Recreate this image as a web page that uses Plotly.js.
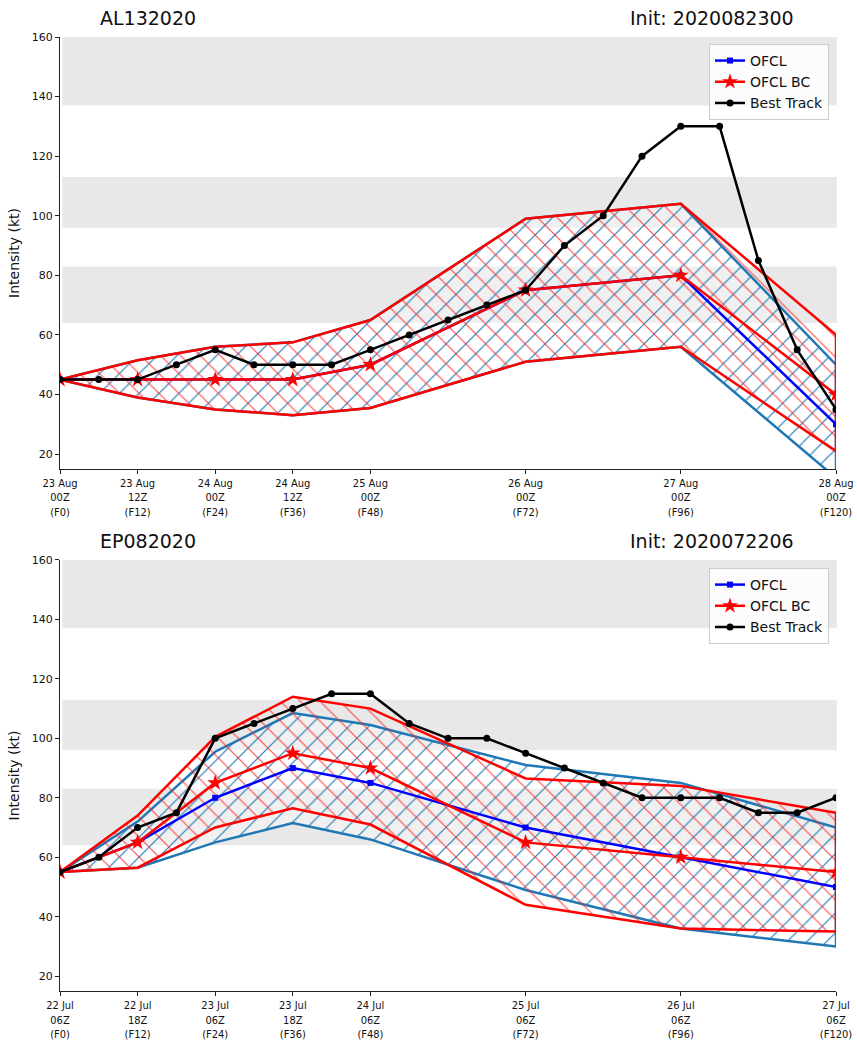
<!DOCTYPE html>
<html>
<head>
<meta charset="utf-8">
<script src="https://cdn.plot.ly/plotly-3.0.1.min.js"></script>
<style>
  html, body { margin: 0; padding: 0; background: #ffffff; }
  #chart { width: 857px; height: 1042px; }
</style>
</head>
<body>
<div id="chart"></div>
<script>
// ---------- data ----------
const fcstHours = [0, 12, 24, 36, 48, 72, 96, 120];
const btHours = [0, 6, 12, 18, 24, 30, 36, 42, 48, 54, 60, 66, 72, 78, 84, 90, 96, 102, 108, 114, 120];

// Saffir-Simpson shaded bands (kt)
const bandLow = [64, 96, 137];
const bandHigh = [83, 113, 160];

// AL132020
const alTitle = "AL132020";
const alInit = "Init: 2020082300";
const alTickText = ["23 Aug<br>00Z<br>(F0)", "23 Aug<br>12Z<br>(F12)", "24 Aug<br>00Z<br>(F24)", "24 Aug<br>12Z<br>(F36)",
                    "25 Aug<br>00Z<br>(F48)", "26 Aug<br>00Z<br>(F72)", "27 Aug<br>00Z<br>(F96)", "28 Aug<br>00Z<br>(F120)"];
const alOfcl = [45, 45, 45, 45, 50, 75, 80, 30];
const alOfclBC = [45, 45, 45, 45, 50, 75, 80, 40];
const alBestTrack = [45, 45, 45, 50, 55, 50, 50, 50, 55, 60, 65, 70, 75, 90, 100, 120, 130, 130, 85, 55, 35];
const alOfclHigh = [45, 51.5, 56, 57.5, 65, 99, 104, 50];
const alOfclLow = [45, 39, 35, 33, 35.5, 51, 56, 12];
const alBCHigh = [45, 51.5, 56, 57.5, 65, 99, 104, 60];
const alBCLow = [45, 39, 35, 33, 35.5, 51, 56, 21];

// EP082020
const epTitle = "EP082020";
const epInit = "Init: 2020072206";
const epTickText = ["22 Jul<br>06Z<br>(F0)", "22 Jul<br>18Z<br>(F12)", "23 Jul<br>06Z<br>(F24)", "23 Jul<br>18Z<br>(F36)",
                    "24 Jul<br>06Z<br>(F48)", "25 Jul<br>06Z<br>(F72)", "26 Jul<br>06Z<br>(F96)", "27 Jul<br>06Z<br>(F120)"];
const epOfcl = [55, 65, 80, 90, 85, 70, 60, 50];
const epOfclBC = [55, 65, 85, 95, 90, 65, 60, 55];
const epBestTrack = [55, 60, 70, 75, 100, 105, 110, 115, 115, 105, 100, 100, 95, 90, 85, 80, 80, 80, 75, 75, 80];
const epOfclHigh = [55, 72, 95.5, 108.5, 104.5, 91, 85, 70];
const epOfclLow = [55, 56.5, 65, 71.5, 66, 49, 36, 30];
const epBCHigh = [55, 74, 100.5, 114, 110, 86.5, 84, 75];
const epBCLow = [55, 56.5, 70, 76.5, 71, 44, 36, 35];

const yTickVals = [20, 40, 60, 80, 100, 120, 140, 160];

// ---------- styling ----------
const FONT = "DejaVu Sans, Verdana, sans-serif";
const TICKFONT_X = "Liberation Sans Narrow, DejaVu Sans Condensed, DejaVu Sans, sans-serif";
const CBLUE = "#1f77b4";

function polyX(h) { return h.concat(h.slice().reverse()); }
function polyY(hi, lo) { return hi.concat(lo.slice().reverse()); }

function buildTraces(xa, ya, legendId, ofcl, bc, bt, ofHi, ofLo, bcHi, bcLo) {
  return [
    { x: polyX(fcstHours), y: polyY(ofHi, ofLo), xaxis: xa, yaxis: ya, type: "scatter", mode: "lines",
      fill: "toself", fillcolor: "rgba(255,255,255,0.35)",
      fillpattern: { shape: "/", fgcolor: CBLUE, bgcolor: "rgba(255,255,255,0.35)", size: 14, solidity: 0.08 },
      line: { color: CBLUE, width: 2.5 }, showlegend: false, hoverinfo: "skip" },
    { x: polyX(fcstHours), y: polyY(bcHi, bcLo), xaxis: xa, yaxis: ya, type: "scatter", mode: "lines",
      fill: "toself", fillcolor: "rgba(0,0,0,0)",
      fillpattern: { shape: "\\", fgcolor: "rgba(255,30,30,0.8)", bgcolor: "rgba(0,0,0,0)", size: 14, solidity: 0.08 },
      line: { color: "#ff0000", width: 2.5 }, showlegend: false, hoverinfo: "skip" },
    { x: fcstHours, y: ofcl, xaxis: xa, yaxis: ya, type: "scatter", mode: "lines+markers", name: "OFCL",
      legend: legendId, line: { color: "#0000ff", width: 2.5 }, marker: { symbol: "square", size: 6, color: "#0000ff" } },
    { x: fcstHours, y: bc, xaxis: xa, yaxis: ya, type: "scatter", mode: "lines+markers", name: "OFCL BC",
      legend: legendId, line: { color: "#ff0000", width: 2.5 }, marker: { symbol: "star", size: 12, color: "#ff0000" } },
    { x: btHours, y: bt, xaxis: xa, yaxis: ya, type: "scatter", mode: "lines+markers", name: "Best Track",
      legend: legendId, line: { color: "#000000", width: 2.5 }, marker: { symbol: "circle", size: 7, color: "#000000" } }
  ];
}

const traces = []
  .concat(buildTraces("x", "y", "legend", alOfcl, alOfclBC, alBestTrack, alOfclHigh, alOfclLow, alBCHigh, alBCLow))
  .concat(buildTraces("x2", "y2", "legend2", epOfcl, epOfclBC, epBestTrack, epOfclHigh, epOfclLow, epBCHigh, epBCLow));

function xAxis(ticktext, anchor) {
  return {
    domain: [0, 1], anchor: anchor, range: [0, 120], tickmode: "array", tickvals: fcstHours, ticktext: ticktext,
    ticks: "outside", ticklen: 4, tickwidth: 1, tickcolor: "#222", showline: true, linecolor: "#222", linewidth: 1,
    showgrid: false, zeroline: false, tickfont: { family: TICKFONT_X, size: 11, color: "#111" }
  };
}
function yAxis(anchor, domain) {
  return {
    domain: domain, anchor: anchor, range: [15, 160], tickmode: "array", tickvals: yTickVals,
    ticks: "outside", ticklen: 4, tickwidth: 1, tickcolor: "#222", showline: true, linecolor: "#222", linewidth: 1,
    showgrid: false, zeroline: false, tickfont: { family: FONT, size: 11, color: "#111" },
    title: { text: "Intensity (kt)", font: { family: FONT, size: 14, color: "#111" }, standoff: 8 }
  };
}

const shapes = [];
for (let i = 0; i < bandLow.length; i++) {
  [["x domain", "y"], ["x2 domain", "y2"]].forEach(([xr, yr]) => {
    shapes.push({ type: "rect", xref: xr, yref: yr, x0: 0.003, x1: 1.001, y0: bandLow[i], y1: bandHigh[i],
      fillcolor: "#e8e8e8", line: { width: 0 }, layer: "below" });
  });
}

function legendCfg(y) {
  return { x: 0.991, xanchor: "right", y: y, yanchor: "top", bgcolor: "rgba(255,255,255,0.85)",
    bordercolor: "#cccccc", borderwidth: 1, font: { family: FONT, size: 14, color: "#111" }, itemwidth: 30,
    tracegroupgap: 0 };
}

const titleFont = { family: FONT, size: 19, color: "#111" };
const annotations = [
  { text: alTitle, xref: "paper", yref: "paper", x: 0.049, y: 1.0199, xanchor: "left", yanchor: "middle", showarrow: false, font: titleFont },
  { text: alInit, xref: "paper", yref: "paper", x: 0.9485, y: 1.0199, xanchor: "right", yanchor: "middle", showarrow: false, font: titleFont },
  { text: epTitle, xref: "paper", yref: "paper", x: 0.049, y: 0.4717, xanchor: "left", yanchor: "middle", showarrow: false, font: titleFont },
  { text: epInit, xref: "paper", yref: "paper", x: 0.9485, y: 0.4717, xanchor: "right", yanchor: "middle", showarrow: false, font: titleFont }
];

const layout = {
  width: 857, height: 1042,
  margin: { l: 60, r: 21, t: 37, b: 51, pad: 0 },
  paper_bgcolor: "#ffffff", plot_bgcolor: "#ffffff",
  font: { family: FONT, color: "#111" },
  xaxis: xAxis(alTickText, "y"),
  yaxis: yAxis("x", [0.5472, 1]),
  xaxis2: xAxis(epTickText, "y2"),
  yaxis2: yAxis("x2", [0, 0.4518]),
  shapes: shapes,
  annotations: annotations,
  legend: legendCfg(0.9927),
  legend2: legendCfg(0.4434),
  hovermode: false
};

Plotly.newPlot("chart", traces, layout, { displayModeBar: false, staticPlot: true });
</script>
</body>
</html>
